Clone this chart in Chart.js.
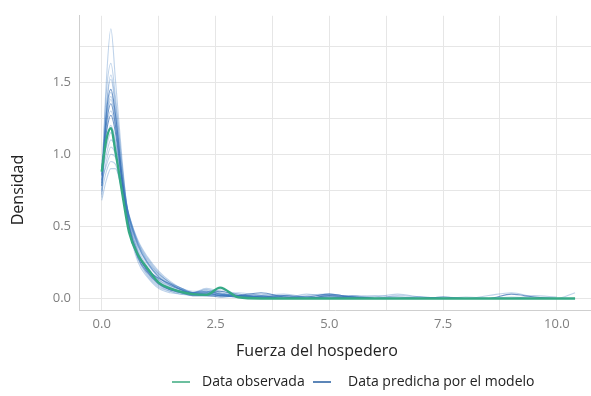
<!DOCTYPE html>
<html>
<head>
<meta charset="utf-8">
<script src="https://cdn.jsdelivr.net/npm/chart.js@4"></script>
<style>
  body { margin: 0; background: #fff; }
  canvas { display: block; }
</style>
</head>
<body>
<canvas id="ppcChart" width="591" height="396"></canvas>
<script>
// valores de x compartidos por todas las curvas de densidad
const xs = [0, 0.1, 0.2, 0.3, 0.45, 0.6, 0.8, 1.0, 1.25, 1.5, 1.75, 2.0, 2.3, 2.6, 3.0, 3.5, 4.0, 4.5, 5.0, 5.5, 6.0, 6.5, 7.0, 7.5, 8.0, 8.5, 9.0, 9.5, 10.0, 10.4];

// densidad de la data observada
const observada = [0.88, 1.10, 1.18, 1.02, 0.73, 0.46, 0.30, 0.21, 0.11, 0.07, 0.045, 0.03, 0.025, 0.075, 0.008, 0.0, 0.0, 0.0, 0.0, 0.0, 0.0, 0.0, 0.0, 0.0, 0.0, 0.0, 0.0, 0.0, 0.0, 0.0];

// densidades predichas (replicas del modelo)
const r01 = [0.80, 1.50, 1.87, 1.52, 0.95, 0.50, 0.25, 0.15, 0.07, 0.04, 0.03, 0.02, 0.02, 0.02, 0.01, 0.02, 0.01, 0.00, 0.01, 0.00, 0.00, 0.01, 0.00, 0.00, 0.00];
const r02 = [0.85, 1.42, 1.63, 1.40, 0.92, 0.52, 0.28, 0.17, 0.09, 0.05, 0.04, 0.03, 0.03, 0.02, 0.01, 0.02, 0.03, 0.01, 0.00, 0.01, 0.02, 0.01, 0.00, 0.00, 0.01, 0.00];
const r03 = [0.75, 1.32, 1.55, 1.36, 0.90, 0.55, 0.32, 0.19, 0.10, 0.06, 0.04, 0.03, 0.02, 0.03, 0.02, 0.01, 0.00, 0.02, 0.03, 0.01, 0.00, 0.00, 0.01, 0.00];
const r04 = [0.70, 1.30, 1.52, 1.32, 0.86, 0.53, 0.31, 0.20, 0.12, 0.07, 0.05, 0.04, 0.05, 0.03, 0.01, 0.01, 0.02, 0.01, 0.00, 0.00, 0.01, 0.03, 0.01, 0.00, 0.00, 0.00, 0.01, 0.00];
const r05 = [0.78, 1.28, 1.45, 1.28, 0.84, 0.50, 0.30, 0.19, 0.11, 0.06, 0.04, 0.02, 0.02, 0.01, 0.02, 0.04, 0.01, 0.00, 0.02, 0.01, 0.00, 0.00, 0.00, 0.01, 0.00, 0.00, 0.03, 0.01, 0.00];
const r06 = [0.82, 1.25, 1.43, 1.27, 0.86, 0.56, 0.34, 0.22, 0.13, 0.08, 0.05, 0.03, 0.03, 0.02, 0.01, 0.00, 0.01, 0.00, 0.00, 0.02, 0.01, 0.00];
const r07 = [0.88, 1.22, 1.38, 1.22, 0.82, 0.52, 0.32, 0.21, 0.13, 0.09, 0.06, 0.04, 0.03, 0.02, 0.02, 0.01, 0.00, 0.01, 0.03, 0.01, 0.00, 0.00, 0.00, 0.00, 0.00, 0.02, 0.04, 0.01, 0.00, 0.04];
const r08 = [0.72, 1.15, 1.30, 1.18, 0.84, 0.57, 0.37, 0.25, 0.16, 0.10, 0.06, 0.04, 0.06, 0.04, 0.02, 0.01, 0.00, 0.00, 0.01, 0.02, 0.00, 0.00, 0.01, 0.00];
const r09 = [0.90, 1.15, 1.27, 1.15, 0.80, 0.50, 0.30, 0.20, 0.14, 0.10, 0.06, 0.03, 0.03, 0.05, 0.02, 0.01, 0.02, 0.01, 0.03, 0.01, 0.00];
const r10 = [0.80, 1.08, 1.20, 1.10, 0.80, 0.55, 0.36, 0.24, 0.15, 0.09, 0.06, 0.04, 0.04, 0.03, 0.02, 0.03, 0.01, 0.00, 0.00, 0.00, 0.00, 0.02, 0.01, 0.00, 0.00, 0.00, 0.00, 0.00];
const r11 = [0.95, 1.05, 1.15, 1.08, 0.80, 0.58, 0.38, 0.26, 0.17, 0.11, 0.07, 0.05, 0.05, 0.03, 0.02, 0.01, 0.01, 0.00, 0.02, 0.00, 0.00, 0.00];
const r12 = [0.85, 1.00, 1.10, 1.05, 0.78, 0.56, 0.37, 0.25, 0.15, 0.10, 0.06, 0.03, 0.04, 0.02, 0.04, 0.02, 0.00, 0.01, 0.00];
const r13 = [0.78, 0.95, 1.05, 1.00, 0.78, 0.57, 0.39, 0.28, 0.18, 0.11, 0.07, 0.04, 0.05, 0.03, 0.01, 0.00, 0.00, 0.03, 0.01, 0.00, 0.00, 0.00, 0.00, 0.01, 0.00];
const r14 = [0.82, 0.92, 1.00, 0.98, 0.77, 0.58, 0.40, 0.29, 0.19, 0.12, 0.07, 0.04, 0.05, 0.03, 0.02, 0.02, 0.00, 0.00, 0.01, 0.00];
const r15 = [0.74, 0.88, 0.95, 0.93, 0.75, 0.57, 0.38, 0.27, 0.17, 0.11, 0.07, 0.04, 0.06, 0.04, 0.02, 0.01, 0.00, 0.00, 0.00];
const r16 = [0.68, 0.82, 0.90, 0.90, 0.74, 0.56, 0.36, 0.25, 0.15, 0.09, 0.06, 0.04, 0.07, 0.05, 0.03, 0.01, 0.02, 0.00, 0.00, 0.01, 0.00, 0.00, 0.00, 0.00, 0.00, 0.00, 0.00, 0.02, 0.01];
const r17 = [0.86, 1.20, 1.35, 1.20, 0.80, 0.48, 0.28, 0.18, 0.10, 0.06, 0.05, 0.04, 0.04, 0.02, 0.02, 0.01, 0.00, 0.00, 0.00, 0.01, 0.00, 0.00, 0.00, 0.00, 0.00, 0.00, 0.00, 0.00, 0.00];
const r18 = [0.92, 1.25, 1.40, 1.25, 0.82, 0.48, 0.27, 0.16, 0.08, 0.05, 0.03, 0.03, 0.04, 0.06, 0.03, 0.01, 0.00, 0.00, 0.02, 0.01, 0.00, 0.00, 0.00, 0.00, 0.00, 0.00, 0.00, 0.00];
const replicas = [r01, r02, r03, r04, r05, r06, r07, r08, r09, r10, r11, r12, r13, r14, r15, r16, r17, r18];

// ticks de los ejes
const xTicks = [0, 2.5, 5, 7.5, 10];
const xMinor = [1.25, 3.75, 6.25, 8.75];
const yTicks = [0, 0.5, 1.0, 1.5];
const yMinor = [0.25, 0.75, 1.25, 1.75];

const legendItems = ['Data observada', 'Data predicha por el modelo'];

const GREEN = '#35a985';
const BLUE = 'rgba(60, 122, 190, 0.33)';
const BLUE_DARK = 'rgba(55, 110, 178, 0.7)';

function toPoints(arr) {
    return arr.map((v, i) => ({ x: xs[i], y: v }));
}

const datasets = [{
    label: legendItems[0],
    data: toPoints(observada),
    borderColor: GREEN,
    borderWidth: 2.4,
    order: 0
}];
replicas.forEach((r, i) => {
    datasets.push({
        label: legendItems[1],
        data: toPoints(r),
        borderColor: (i === 4 || i === 8 || i === 16) ? BLUE_DARK : BLUE,
        borderWidth: 1.1,
        order: 1
    });
});

// leyenda y titulos dibujados a mano para ubicarlos como en la figura
const extrasPlugin = {
    id: 'extras',
    afterDraw(chart) {
        const ctx = chart.ctx;
        ctx.save();
        ctx.fillStyle = '#222';
        ctx.font = '16px "Open Sans"';
        ctx.textAlign = 'center';
        ctx.textBaseline = 'middle';
        ctx.fillText('Fuerza del hospedero', 317, 351);

        ctx.translate(18, 190);
        ctx.rotate(-Math.PI / 2);
        ctx.fillText('Densidad', 0, 0);
        ctx.restore();

        ctx.save();
        ctx.font = '14px "Open Sans"';
        ctx.textBaseline = 'middle';
        ctx.textAlign = 'left';
        ctx.lineWidth = 2;
        const y = 382;
        ctx.strokeStyle = '#6cbf9f';
        ctx.beginPath(); ctx.moveTo(172, y); ctx.lineTo(190, y); ctx.stroke();
        ctx.fillStyle = '#222';
        ctx.fillText(legendItems[0], 202, y);
        ctx.strokeStyle = '#5c86b8';
        ctx.beginPath(); ctx.moveTo(313, y); ctx.lineTo(331, y); ctx.stroke();
        ctx.fillText(legendItems[1], 348, y);
        ctx.restore();
    }
};

const ctx = document.getElementById('ppcChart').getContext('2d');
new Chart(ctx, {
    type: 'line',
    data: { datasets: datasets },
    options: {
        responsive: false,
        animation: false,
        layout: { padding: { top: 5, right: 0, left: 0, bottom: 0 } },
        elements: {
            point: { radius: 0 },
            line: { cubicInterpolationMode: 'monotone', fill: false }
        },
        plugins: {
            legend: { display: false },
            tooltip: { enabled: false }
        },
        scales: {
            x: {
                type: 'linear',
                min: -0.5,
                max: 10.75,
                afterBuildTicks: s => { s.ticks = xTicks.concat(xMinor).sort((a, b) => a - b).map(v => ({ value: v })); },
                afterFit: s => { s.height = 86; },
                ticks: {
                    padding: 6,
                    color: '#7f7f7f',
                    font: { family: 'Open Sans', size: 13 },
                    maxRotation: 0,
                    autoSkip: false,
                    callback: v => xTicks.includes(v) ? v.toFixed(1) : ''
                },
                grid: { color: '#e6e6e6', lineWidth: 1, drawTicks: false },
                border: { display: true, color: '#cfcfcf' }
            },
            y: {
                min: -0.08,
                max: 1.96,
                afterBuildTicks: s => { s.ticks = yTicks.concat(yMinor).sort((a, b) => a - b).map(v => ({ value: v })); },
                afterFit: s => { s.width = 79; },
                ticks: {
                    padding: 8,
                    color: '#7f7f7f',
                    font: { family: 'Open Sans', size: 13 },
                    autoSkip: false,
                    callback: v => yTicks.includes(v) ? v.toFixed(1) : ''
                },
                grid: { color: '#e6e6e6', lineWidth: 1, drawTicks: false },
                border: { display: true, color: '#cfcfcf' }
            }
        }
    },
    plugins: [extrasPlugin]
});
</script>
</body>
</html>
